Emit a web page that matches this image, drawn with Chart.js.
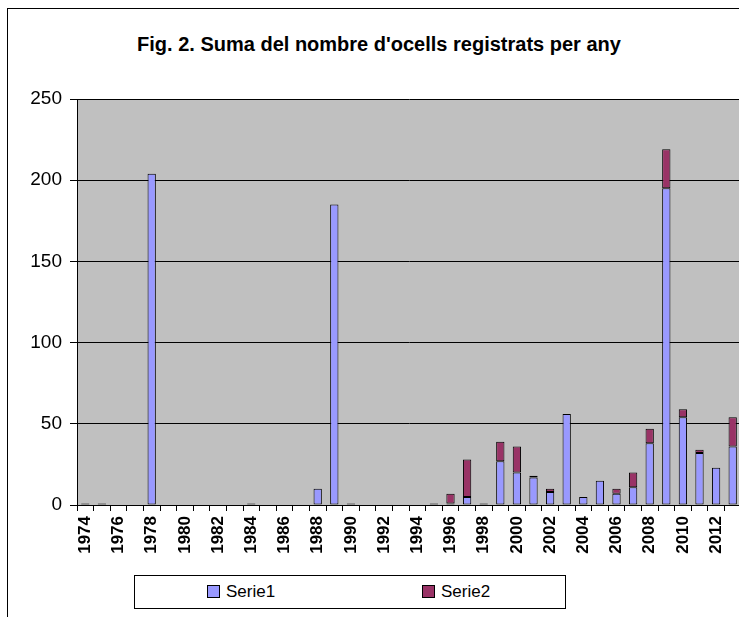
<!DOCTYPE html>
<html>
<head>
<meta charset="utf-8">
<script src="https://cdn.jsdelivr.net/npm/chart.js@4"></script>
<style>
  html, body { margin: 0; padding: 0; background: #fff; overflow: hidden; }
  body { width: 739px; height: 617px; position: relative; font-family: "Liberation Sans", Arial, sans-serif; }
  #frame { position: absolute; left: 7px; top: 8px; width: 760px; height: 700px; border: 1px solid #000; box-sizing: border-box; }
  #title { position: absolute; left: 7px; width: 744px; top: 32px; text-align: center; font-weight: bold; font-size: 20px; line-height: 24px; color: #000; }
  #wrap { position: absolute; left: 0; top: 0; width: 760px; height: 617px; }
  #legend { position: absolute; left: 134px; top: 575px; width: 432px; height: 34px; border: 1px solid #000; box-sizing: border-box; background: #fff; }
  #legend .item { position: absolute; top: 6px; font-size: 17px; line-height: 20px; color: #000; }
  #legend .sw { display: inline-block; width: 11px; height: 11px; border: 1px solid #000; margin-right: 6px; vertical-align: -1px; }
</style>
</head>
<body>
<div id="frame"></div>
<div id="title">Fig. 2. Suma del nombre d'ocells registrats per any</div>
<div id="wrap"><canvas id="ocells"></canvas></div>
<div id="legend"></div>
<script>
// ------
// data
// ------
const years = ['1974', '1975', '1976', '1977', '1978', '1979', '1980', '1981', '1982', '1983',
  '1984', '1985', '1986', '1987', '1988', '1989', '1990', '1991', '1992', '1993',
  '1994', '1995', '1996', '1997', '1998', '1999', '2000', '2001', '2002', '2003',
  '2004', '2005', '2006', '2007', '2008', '2009', '2010', '2011', '2012', '2013'];
const serie1 = [1, 1, 0, 0, 204, 0, 0, 0, 0, 0,
  1, 0, 0, 0, 10, 185, 1, 0, 0, 0,
  0, 1, 1, 5, 0, 27, 20, 17, 8, 56,
  5, 15, 7, 11, 38, 195, 54, 32, 23, 36];
const serie2 = [0, 0, 0, 0, 0, 0, 0, 0, 0, 0,
  0, 0, 0, 0, 0, 0, 0, 0, 0, 0,
  0, 0, 6, 23, 1, 12, 16, 1, 2, 0,
  0, 0, 3, 9, 9, 24, 5, 2, 0, 18];
const yTicks = [0, 50, 100, 150, 200, 250];
const seriesNames = ['Serie1', 'Serie2'];
const seriesColors = ['#9999FF', '#993366'];

// ------
// plot background
// ------
const plotBg = {
  id: 'plotBg',
  beforeDraw(chart) {
    const { ctx, chartArea: a } = chart;
    ctx.save();
    ctx.fillStyle = '#C0C0C0';
    ctx.fillRect(a.left, a.top, a.right - a.left, a.bottom - a.top);
    ctx.restore();
  },
};

const canvas = document.getElementById('ocells');
canvas.width = 760;
canvas.height = 617;

const chart = new Chart(canvas, {
  type: 'bar',
  data: {
    labels: years,
    datasets: [
      { label: seriesNames[0], data: serie1, backgroundColor: seriesColors[0], borderColor: '#000', borderWidth: 1, borderSkipped: false },
      { label: seriesNames[1], data: serie2, backgroundColor: seriesColors[1], borderColor: '#000', borderWidth: 1, borderSkipped: false },
    ],
  },
  options: {
    responsive: false,
    animation: false,
    layout: { padding: { top: 99, left: 0, right: 19, bottom: 0 } },
    datasets: { bar: { categoryPercentage: 1, barPercentage: 0.5 } },
    plugins: {
      legend: { display: false },
      title: { display: false },
      tooltip: { enabled: false },
    },
    scales: {
      x: {
        stacked: true,
        grid: { display: true, drawOnChartArea: false, color: '#000', tickLength: 6, offset: true },
        border: { color: '#000', width: 1 },
        ticks: {
          autoSkip: false,
          maxRotation: 90,
          minRotation: 90,
          padding: 5,
          color: '#000',
          font: { family: 'Liberation Sans', size: 17, weight: 'bold' },
          callback: (v, i) => (i % 2 === 0 ? years[i] : ''),
        },
        afterFit: (s) => { s.height = 112; },
      },
      y: {
        stacked: true,
        min: yTicks[0],
        max: yTicks[yTicks.length - 1],
        afterBuildTicks: (s) => { s.ticks = yTicks.map((v) => ({ value: v })); },
        grid: { color: '#000', lineWidth: 1, tickLength: 7 },
        border: { color: '#000', width: 1 },
        ticks: {
          padding: 8,
          color: '#000',
          font: { family: 'Liberation Sans', size: 19 },
        },
        afterFit: (s) => { s.width = 77; },
      },
    },
  },
  plugins: [plotBg],
});

// ------
// legend box
// ------
const legend = document.getElementById('legend');
const itemLeft = [72, 287];
seriesNames.forEach((name, i) => {
  const item = document.createElement('span');
  item.className = 'item';
  item.style.left = itemLeft[i] + 'px';
  const sw = document.createElement('span');
  sw.className = 'sw';
  sw.style.background = seriesColors[i];
  item.appendChild(sw);
  item.appendChild(document.createTextNode(name));
  legend.appendChild(item);
});
</script>
</body>
</html>
